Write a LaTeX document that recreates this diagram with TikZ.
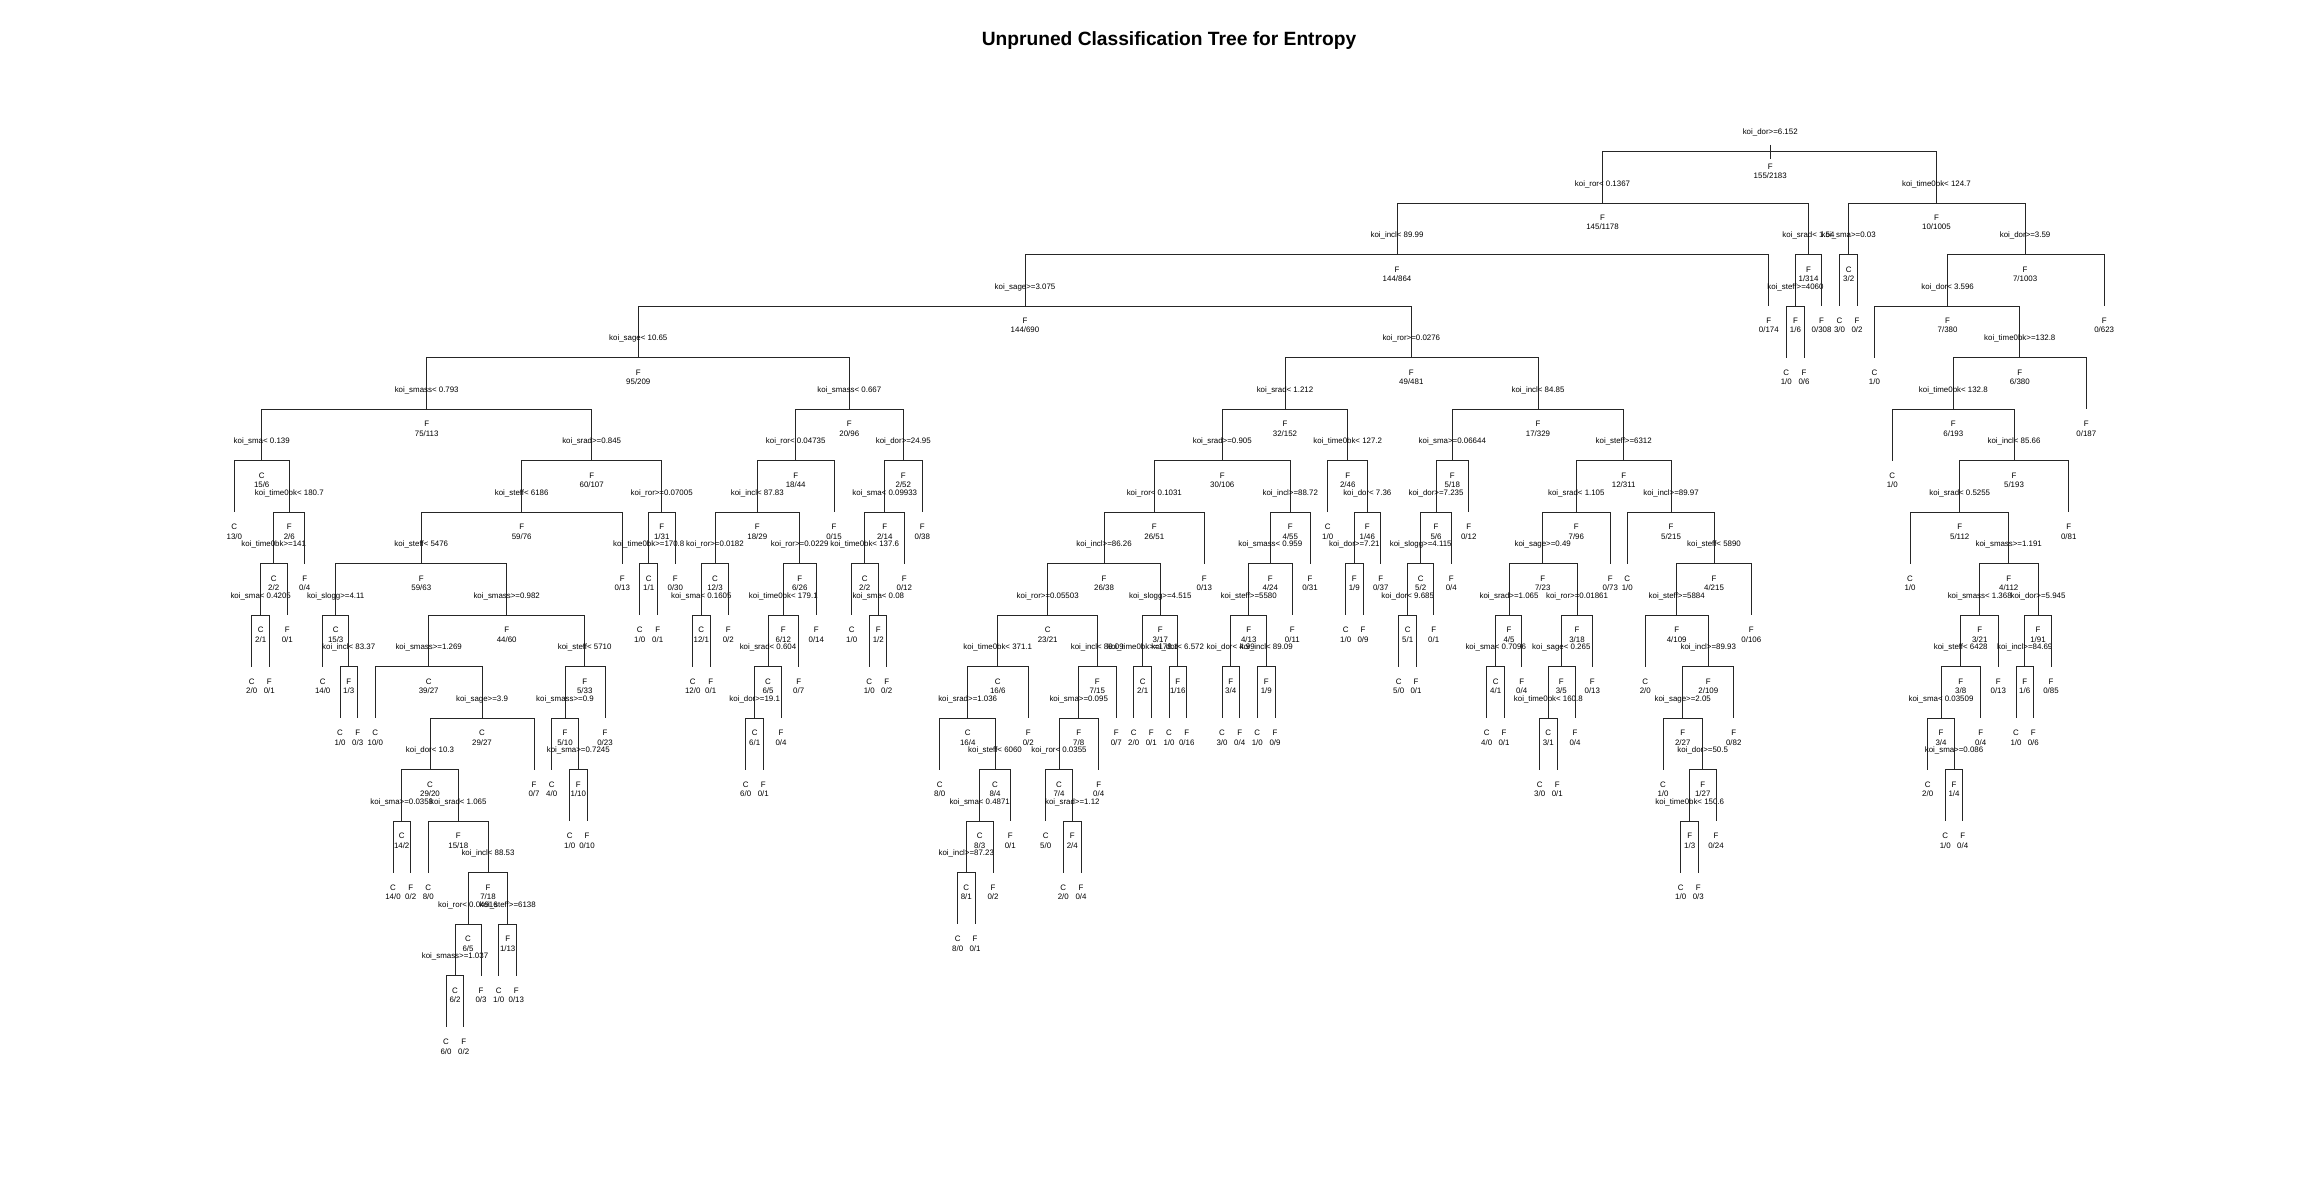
\documentclass[tikz,border=0pt]{standalone}
\usepackage{fontspec}
\setmainfont{Liberation Sans}

\newcount\treenum
\newcount\treedep
\newcommand{\finddepth}[1]{\treenum=#1\relax\treedep=0\relax
  \loop\ifnum\treenum>1 \divide\treenum by 2 \advance\treedep by 1 \repeat}
\newcommand{\leafnode}[4]{%
  \finddepth{#1}%
  \coordinate (t#1) at (#2,{151.7+51.5*\the\treedep});
  \node[lab] (t#1c) at ([yshift=-17.4pt]t#1) {#3};
  \node[lab] (t#1n) at ([yshift=-26.8pt]t#1) {#4};
  \ifnum#1>1 \edef\treepar{\the\numexpr(#1-1)/2\relax}\draw[branch] (t\treepar) -| (t#1);\fi}
\newcommand{\splitnode}[5]{%
  \leafnode{#1}{#2}{#4}{#5}%
  \node[lab] (t#1s) at ([yshift=16.8pt]t#1) {#3};}

\begin{document}
\begin{tikzpicture}[x=1pt,y=-1pt,
    lab/.style={font=\fontsize{7.9}{9}\selectfont, anchor=base, inner sep=0pt},
    branch/.style={draw=black!85, line width=1pt}]
\fill[white] (0,0) rectangle (2300,1198);
\useasboundingbox (0,0) rectangle (2300,1198);
\node[font=\bfseries\fontsize{19.2}{22}\selectfont, anchor=base, inner sep=0pt] (title) at (1169,46) {Unpruned Classification Tree for Entropy};

\splitnode{1}{1770.2}{koi\_dor>=6.152}{F}{155/2183}
\draw[branch] ([yshift=6.7pt]t1) -- ([yshift=-7.6pt]t1);

\splitnode{2}{1602.5}{koi\_ror< 0.1367}{F}{145/1178}
\splitnode{3}{1936.4}{koi\_time0bk< 124.7}{F}{10/1005}

\splitnode{4}{1397}{koi\_incl< 89.99}{F}{144/864}
\splitnode{5}{1808.5}{koi\_srad< 1.54}{F}{1/314}
\splitnode{6}{1848.7}{koi\_sma>=0.03}{C}{3/2}
\splitnode{7}{2025.1}{koi\_dor>=3.59}{F}{7/1003}

\splitnode{8}{1025}{koi\_sage>=3.075}{F}{144/690}
\leafnode{9}{1768.8}{F}{0/174}
\splitnode{10}{1795.4}{koi\_steff>=4060}{F}{1/6}
\leafnode{11}{1821.6}{F}{0/308}
\leafnode{12}{1839.5}{C}{3/0}
\leafnode{13}{1857}{F}{0/2}
\splitnode{14}{1947.6}{koi\_dor< 3.596}{F}{7/380}
\leafnode{15}{2104.2}{F}{0/623}

\splitnode{16}{638.3}{koi\_sage< 10.65}{F}{95/209}
\splitnode{17}{1411.3}{koi\_ror>=0.0276}{F}{49/481}
\leafnode{20}{1786.3}{C}{1/0}
\leafnode{21}{1804}{F}{0/6}
\leafnode{28}{1874.4}{C}{1/0}
\splitnode{29}{2019.8}{koi\_time0bk>=132.8}{F}{6/380}

\splitnode{32}{426.7}{koi\_smass< 0.793}{F}{75/113}
\splitnode{33}{849.3}{koi\_smass< 0.667}{F}{20/96}
\splitnode{34}{1285}{koi\_srad< 1.212}{F}{32/152}
\splitnode{35}{1538}{koi\_incl< 84.85}{F}{17/329}
\splitnode{58}{1953.3}{koi\_time0bk< 132.8}{F}{6/193}
\leafnode{59}{2086.3}{F}{0/187}

\splitnode{64}{261.7}{koi\_sma< 0.139}{C}{15/6}
\splitnode{65}{591.7}{koi\_srad>=0.845}{F}{60/107}
\splitnode{66}{795.7}{koi\_ror< 0.04735}{F}{18/44}
\splitnode{67}{903.3}{koi\_dor>=24.95}{F}{2/52}
\splitnode{68}{1222.3}{koi\_srad>=0.905}{F}{30/106}
\splitnode{69}{1347.7}{koi\_time0bk< 127.2}{F}{2/46}
\splitnode{70}{1452.3}{koi\_sma>=0.06644}{F}{5/18}
\splitnode{71}{1623.7}{koi\_steff>=6312}{F}{12/311}
\leafnode{116}{1892.3}{C}{1/0}
\splitnode{117}{2014}{koi\_incl< 85.66}{F}{5/193}

\leafnode{128}{234.3}{C}{13/0}
\splitnode{129}{289.3}{koi\_time0bk< 180.7}{F}{2/6}
\splitnode{130}{521.7}{koi\_steff< 6186}{F}{59/76}
\splitnode{131}{661.7}{koi\_ror>=0.07005}{F}{1/31}
\splitnode{132}{757.3}{koi\_incl< 87.83}{F}{18/29}
\leafnode{133}{834}{F}{0/15}
\splitnode{134}{884.7}{koi\_sma< 0.09933}{F}{2/14}
\leafnode{135}{922.3}{F}{0/38}
\splitnode{136}{1154.3}{koi\_ror< 0.1031}{F}{26/51}
\splitnode{137}{1290.3}{koi\_incl>=88.72}{F}{4/55}
\leafnode{138}{1327.7}{C}{1/0}
\splitnode{139}{1367.3}{koi\_dor< 7.36}{F}{1/46}
\splitnode{140}{1436}{koi\_dor>=7.235}{F}{5/6}
\leafnode{141}{1468.7}{F}{0/12}
\splitnode{142}{1576.3}{koi\_srad< 1.105}{F}{7/96}
\splitnode{143}{1671}{koi\_incl>=89.97}{F}{5/215}
\splitnode{234}{1959.7}{koi\_srad< 0.5255}{F}{5/112}
\leafnode{235}{2068.7}{F}{0/81}

\splitnode{258}{273.7}{koi\_time0bk>=141}{C}{2/2}
\leafnode{259}{304.7}{F}{0/4}
\splitnode{260}{421.3}{koi\_steff< 5476}{F}{59/63}
\leafnode{261}{622.3}{F}{0/13}
\splitnode{262}{648.7}{koi\_time0bk>=170.8}{C}{1/1}
\leafnode{263}{675.3}{F}{0/30}
\splitnode{264}{715}{koi\_ror>=0.0182}{C}{12/3}
\splitnode{265}{799.7}{koi\_ror>=0.0229}{F}{6/26}
\splitnode{268}{864.7}{koi\_time0bk< 137.6}{C}{2/2}
\leafnode{269}{904.3}{F}{0/12}
\splitnode{272}{1104}{koi\_incl>=86.26}{F}{26/38}
\leafnode{273}{1204.3}{F}{0/13}
\splitnode{274}{1270.3}{koi\_smass< 0.959}{F}{4/24}
\leafnode{275}{1310}{F}{0/31}
\splitnode{278}{1354.3}{koi\_dor>=7.21}{F}{1/9}
\leafnode{279}{1380.7}{F}{0/37}
\splitnode{280}{1420.7}{koi\_slogg>=4.115}{C}{5/2}
\leafnode{281}{1451.3}{F}{0/4}
\splitnode{284}{1542.7}{koi\_sage>=0.49}{F}{7/23}
\leafnode{285}{1610.3}{F}{0/73}
\leafnode{286}{1627.3}{C}{1/0}
\splitnode{287}{1714}{koi\_steff< 5890}{F}{4/215}
\leafnode{468}{1910}{C}{1/0}
\splitnode{469}{2008.7}{koi\_smass>=1.191}{F}{4/112}

\splitnode{516}{260.7}{koi\_sma< 0.4205}{C}{2/1}
\leafnode{517}{287.3}{F}{0/1}
\splitnode{520}{335.7}{koi\_slogg>=4.11}{C}{15/3}
\splitnode{521}{506.7}{koi\_smass>=0.982}{F}{44/60}
\leafnode{524}{639.7}{C}{1/0}
\leafnode{525}{657.7}{F}{0/1}
\splitnode{528}{701.3}{koi\_sma< 0.1605}{C}{12/1}
\leafnode{529}{728.3}{F}{0/2}
\splitnode{530}{783.3}{koi\_time0bk< 179.1}{F}{6/12}
\leafnode{531}{816.3}{F}{0/14}
\leafnode{536}{851.7}{C}{1/0}
\splitnode{537}{878.3}{koi\_sma< 0.08}{F}{1/2}
\splitnode{544}{1047.7}{koi\_ror>=0.05503}{C}{23/21}
\splitnode{545}{1160.3}{koi\_slogg>=4.515}{F}{3/17}
\splitnode{548}{1248.7}{koi\_steff>=5580}{F}{4/13}
\leafnode{549}{1292.3}{F}{0/11}
\leafnode{556}{1345.7}{C}{1/0}
\leafnode{557}{1363}{F}{0/9}
\splitnode{560}{1407.7}{koi\_dor< 9.685}{C}{5/1}
\leafnode{561}{1433.7}{F}{0/1}
\splitnode{568}{1509}{koi\_srad>=1.065}{F}{4/5}
\splitnode{569}{1577}{koi\_ror>=0.01861}{F}{3/18}
\splitnode{574}{1676.7}{koi\_steff>=5884}{F}{4/109}
\leafnode{575}{1751.3}{F}{0/106}
\splitnode{938}{1979.7}{koi\_smass< 1.368}{F}{3/21}
\splitnode{939}{2038}{koi\_dor>=5.945}{F}{1/91}

\leafnode{1032}{251.7}{C}{2/0}
\leafnode{1033}{269.3}{F}{0/1}
\leafnode{1040}{322.7}{C}{14/0}
\splitnode{1041}{348.7}{koi\_incl< 83.37}{F}{1/3}
\splitnode{1042}{428.7}{koi\_smass>=1.269}{C}{39/27}
\splitnode{1043}{584.7}{koi\_steff< 5710}{F}{5/33}
\leafnode{1056}{692.7}{C}{12/0}
\leafnode{1057}{710.7}{F}{0/1}
\splitnode{1060}{768}{koi\_srad< 0.604}{C}{6/5}
\leafnode{1061}{798.7}{F}{0/7}
\leafnode{1074}{869.3}{C}{1/0}
\leafnode{1075}{886.7}{F}{0/2}
\splitnode{1088}{997.7}{koi\_time0bk< 371.1}{C}{16/6}
\splitnode{1089}{1097.3}{koi\_incl< 89.09}{F}{7/15}
\splitnode{1090}{1142.7}{koi\_time0bk>=178.1}{C}{2/1}
\splitnode{1091}{1177.7}{koi\_dor< 6.572}{F}{1/16}
\splitnode{1096}{1230.7}{koi\_dor< 4.99}{F}{3/4}
\splitnode{1097}{1266.3}{koi\_incl< 89.09}{F}{1/9}
\leafnode{1120}{1398.7}{C}{5/0}
\leafnode{1121}{1416}{F}{0/1}
\splitnode{1136}{1495.7}{koi\_sma< 0.7096}{C}{4/1}
\leafnode{1137}{1521.7}{F}{0/4}
\splitnode{1138}{1561.3}{koi\_sage< 0.265}{F}{3/5}
\leafnode{1139}{1592.3}{F}{0/13}
\leafnode{1148}{1645.3}{C}{2/0}
\splitnode{1149}{1708.3}{koi\_incl>=89.93}{F}{2/109}
\splitnode{1876}{1960.7}{koi\_steff< 6428}{F}{3/8}
\leafnode{1877}{1998.3}{F}{0/13}
\splitnode{1878}{2024.7}{koi\_incl>=84.69}{F}{1/6}
\leafnode{1879}{2051}{F}{0/85}

\leafnode{2082}{340}{C}{1/0}
\leafnode{2083}{357.7}{F}{0/3}
\leafnode{2084}{375.3}{C}{10/0}
\splitnode{2085}{482}{koi\_sage>=3.9}{C}{29/27}
\splitnode{2086}{565}{koi\_smass>=0.9}{F}{5/10}
\leafnode{2087}{605}{F}{0/23}
\splitnode{2120}{754.7}{koi\_dor>=19.1}{C}{6/1}
\leafnode{2121}{781}{F}{0/4}
\splitnode{2176}{967.7}{koi\_srad>=1.036}{C}{16/4}
\leafnode{2177}{1028.3}{F}{0/2}
\splitnode{2178}{1078.7}{koi\_sma>=0.095}{F}{7/8}
\leafnode{2179}{1116.3}{F}{0/7}
\leafnode{2180}{1133.7}{C}{2/0}
\leafnode{2181}{1151.3}{F}{0/1}
\leafnode{2182}{1169}{C}{1/0}
\leafnode{2183}{1186.7}{F}{0/16}
\leafnode{2192}{1222}{C}{3/0}
\leafnode{2193}{1239.7}{F}{0/4}
\leafnode{2194}{1257.3}{C}{1/0}
\leafnode{2195}{1275}{F}{0/9}
\leafnode{2272}{1486.7}{C}{4/0}
\leafnode{2273}{1504}{F}{0/1}
\splitnode{2276}{1548.3}{koi\_time0bk< 160.8}{C}{3/1}
\leafnode{2277}{1575}{F}{0/4}
\splitnode{2298}{1682.7}{koi\_sage>=2.05}{F}{2/27}
\leafnode{2299}{1733.7}{F}{0/82}
\splitnode{3752}{1941}{koi\_sma< 0.03509}{F}{3/4}
\leafnode{3753}{1980.7}{F}{0/4}
\leafnode{3756}{2016}{C}{1/0}
\leafnode{3757}{2033.3}{F}{0/6}

\splitnode{4170}{430}{koi\_dor< 10.3}{C}{29/20}
\leafnode{4171}{534}{F}{0/7}
\leafnode{4172}{551.7}{C}{4/0}
\splitnode{4173}{578.3}{koi\_sma>=0.7245}{F}{1/10}
\leafnode{4240}{745.7}{C}{6/0}
\leafnode{4241}{763.3}{F}{0/1}
\leafnode{4352}{939.7}{C}{8/0}
\splitnode{4353}{995}{koi\_steff< 6060}{C}{8/4}
\splitnode{4356}{1059}{koi\_ror< 0.0355}{C}{7/4}
\leafnode{4357}{1098.7}{F}{0/4}
\leafnode{4552}{1539.7}{C}{3/0}
\leafnode{4553}{1557.3}{F}{0/1}
\leafnode{4596}{1663}{C}{1/0}
\splitnode{4597}{1702.7}{koi\_dor>=50.5}{F}{1/27}
\leafnode{7504}{1927.7}{C}{2/0}
\splitnode{7505}{1954}{koi\_sma>=0.086}{F}{1/4}

\splitnode{8340}{401.7}{koi\_sma>=0.0358}{C}{14/2}
\splitnode{8341}{458.3}{koi\_srad< 1.065}{F}{15/18}
\leafnode{8346}{569.7}{C}{1/0}
\leafnode{8347}{587}{F}{0/10}
\splitnode{8706}{979.7}{koi\_sma< 0.4871}{C}{8/3}
\leafnode{8707}{1010.3}{F}{0/1}
\leafnode{8712}{1045.7}{C}{5/0}
\splitnode{8713}{1072.3}{koi\_srad>=1.12}{F}{2/4}
\splitnode{9194}{1689.7}{koi\_time0bk< 150.6}{F}{1/3}
\leafnode{9195}{1716}{F}{0/24}
\leafnode{15010}{1945.3}{C}{1/0}
\leafnode{15011}{1962.7}{F}{0/4}

\leafnode{16680}{393}{C}{14/0}
\leafnode{16681}{410.7}{F}{0/2}
\leafnode{16682}{428.3}{C}{8/0}
\splitnode{16683}{488}{koi\_incl< 88.53}{F}{7/18}
\splitnode{17412}{966.3}{koi\_incl>=87.23}{C}{8/1}
\leafnode{17413}{993}{F}{0/2}
\leafnode{17426}{1063.3}{C}{2/0}
\leafnode{17427}{1081}{F}{0/4}
\leafnode{18388}{1680.7}{C}{1/0}
\leafnode{18389}{1698.3}{F}{0/3}

\splitnode{33366}{468}{koi\_ror< 0.04916}{C}{6/5}
\splitnode{33367}{507.7}{koi\_steff>=6138}{F}{1/13}
\leafnode{34824}{957.7}{C}{8/0}
\leafnode{34825}{975}{F}{0/1}

\splitnode{66732}{455}{koi\_smass>=1.037}{C}{6/2}
\leafnode{66733}{481}{F}{0/3}
\leafnode{66734}{498.7}{C}{1/0}
\leafnode{66735}{516.3}{F}{0/13}

\leafnode{133464}{446}{C}{6/0}
\leafnode{133465}{463.7}{F}{0/2}
\end{tikzpicture}
\end{document}
